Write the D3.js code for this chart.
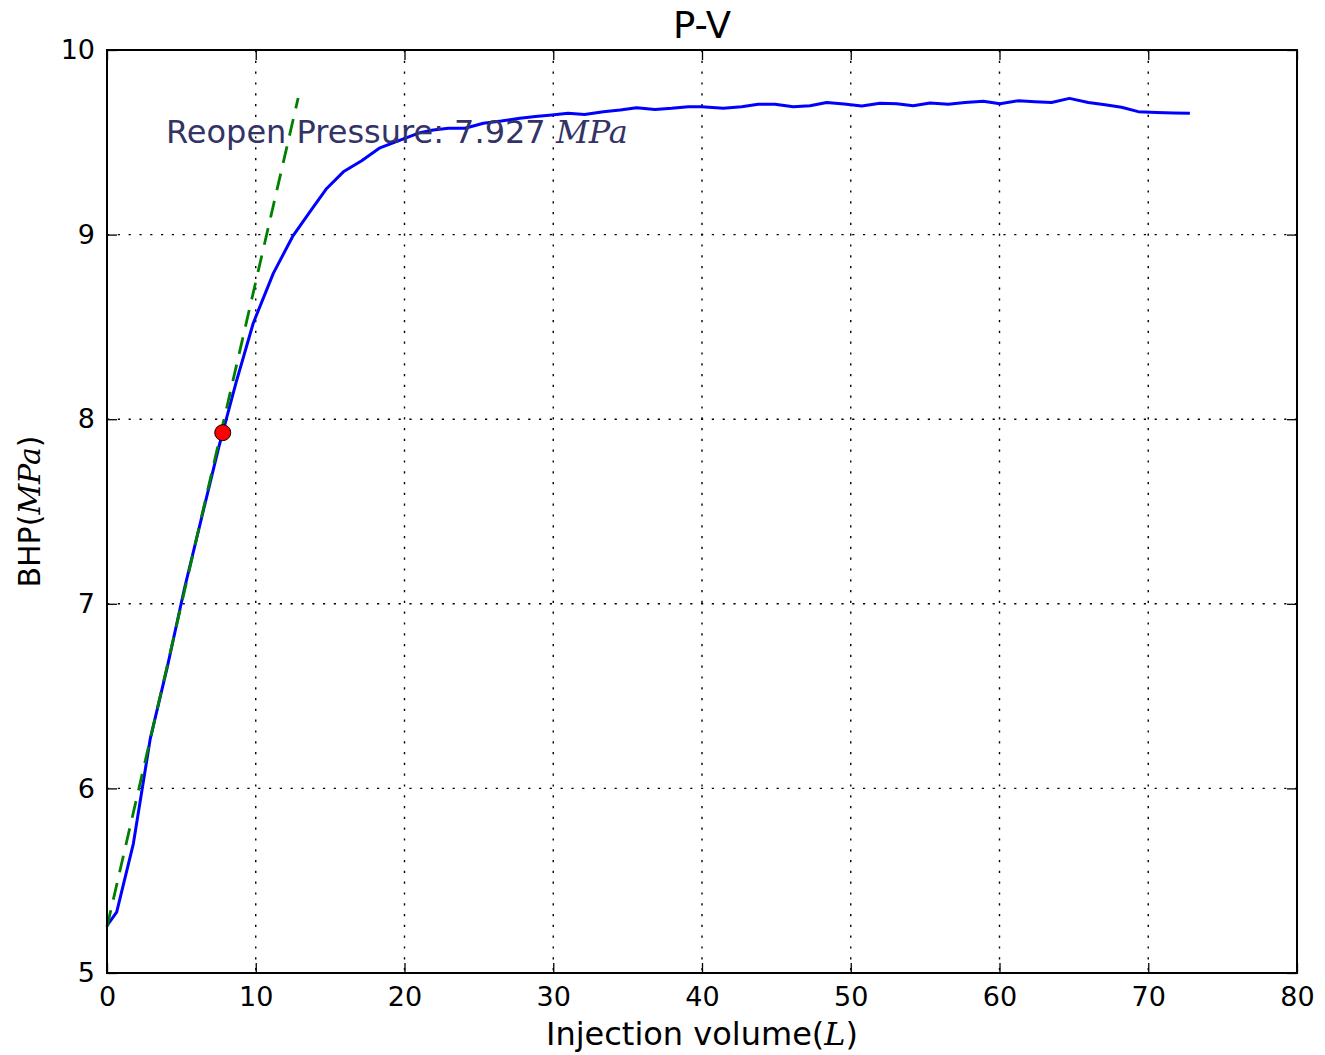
<!DOCTYPE html>
<html>
<head>
<meta charset="utf-8">
<script src="https://cdn.jsdelivr.net/npm/d3@7"></script>
<style>
  html, body { margin: 0; padding: 0; background: #ffffff; }
  svg { display: block; }
  text { font-family: "DejaVu Sans", sans-serif; fill: #000; }
</style>
</head>
<body>
<svg id="chart" width="1325" height="1055"></svg>
<script>
// Injection volume (L) and bottom-hole pressure (MPa) of the P-V record
const volume = [0, 0.65, 1.77, 2.91, 4.06, 5.2, 6.37, 7.52, 8.68, 9.83, 11.18, 12.48, 13.65, 14.77, 15.89, 17.12, 18.35, 19.8, 21.04, 21.94, 22.95, 24.07, 25.3, 26.5, 27.76, 28.8, 29.9, 31.0, 32.1, 33.37, 34.5, 35.6, 36.84, 37.96, 39.08, 39.97, 41.43, 42.66, 43.78, 44.9, 46.14, 47.26, 48.38, 49.55, 50.74, 51.97, 53.09, 54.2, 55.33, 56.56, 57.68, 58.91, 60.03, 61.27, 62.39, 63.5, 64.7, 65.97, 67.1, 68.2, 69.33, 70.56, 71.69, 72.8];
const bhp = [5.257, 5.33, 5.70, 6.27, 6.66, 7.08, 7.47, 7.85, 8.20, 8.52, 8.79, 8.99, 9.124, 9.25, 9.34, 9.40, 9.47, 9.515, 9.552, 9.567, 9.576, 9.576, 9.603, 9.615, 9.63, 9.64, 9.648, 9.657, 9.651, 9.666, 9.675, 9.687, 9.678, 9.684, 9.693, 9.693, 9.684, 9.693, 9.706, 9.706, 9.693, 9.698, 9.716, 9.707, 9.697, 9.711, 9.709, 9.698, 9.713, 9.706, 9.715, 9.722, 9.709, 9.725, 9.72, 9.716, 9.738, 9.716, 9.703, 9.69, 9.666, 9.662, 9.659, 9.657];

// Straight-line fit of the early loading section
const fitVolume = [0, 12.85];
const fitBhp = [5.25, 9.74];

// Reopen point
const reopenVolume = 7.78;
const reopenPressure = 7.927;

const xTicks = [0, 10, 20, 30, 40, 50, 60, 70, 80];
const yTicks = [5, 6, 7, 8, 9, 10];

const svg = d3.select("#chart");
const plotLeft = 107, plotRight = 1297, plotTop = 50, plotBottom = 973;

const x = d3.scaleLinear().domain([0, 80]).range([plotLeft, plotRight]);
const y = d3.scaleLinear().domain([5, 10]).range([plotBottom, plotTop]);

// grid
const grid = svg.append("g");
grid.selectAll("line.gx").data(xTicks.slice(1, -1)).join("line")
  .attr("x1", d => x(d)).attr("x2", d => x(d))
  .attr("y1", plotTop).attr("y2", plotBottom)
  .attr("stroke", "#000").attr("stroke-width", 1.4)
  .attr("stroke-dasharray", "2.2 8.6");
grid.selectAll("line.gy").data(yTicks.slice(1, -1)).join("line")
  .attr("y1", d => y(d)).attr("y2", d => y(d))
  .attr("x1", plotLeft).attr("x2", plotRight)
  .attr("stroke", "#000").attr("stroke-width", 1.4)
  .attr("stroke-dasharray", "2.2 8.6");

// data curve
const line = d3.line().x(d => x(d[0])).y(d => y(d[1]));
svg.append("path")
  .datum(d3.zip(volume, bhp))
  .attr("d", line)
  .attr("fill", "none")
  .attr("stroke", "#0000ff")
  .attr("stroke-width", 3)
  .attr("stroke-linejoin", "round");

// fitted line
svg.append("path")
  .datum(d3.zip(fitVolume, fitBhp))
  .attr("d", line)
  .attr("fill", "none")
  .attr("stroke", "#008000")
  .attr("stroke-width", 2.8)
  .attr("stroke-dasharray", "17 11");

// reopen marker
svg.append("circle")
  .attr("cx", x(reopenVolume)).attr("cy", y(reopenPressure))
  .attr("r", 8)
  .attr("fill", "#ff0000").attr("stroke", "#000").attr("stroke-width", 1);

// annotation
const ann = svg.append("text")
  .attr("x", 166).attr("y", 143)
  .attr("font-size", 32)
  .style("fill", "#333366");
ann.append("tspan").text("Reopen Pressure: " + reopenPressure.toFixed(3) + " ");
ann.append("tspan").text("MPa")
  .style("font-family", "'DejaVu Serif', serif").style("font-style", "italic")
  .style("fill", "#333366");

// axes frame
svg.append("rect")
  .attr("x", plotLeft).attr("y", plotTop)
  .attr("width", plotRight - plotLeft).attr("height", plotBottom - plotTop)
  .attr("fill", "none").attr("stroke", "#000").attr("stroke-width", 2);

// axes with inward ticks on all four sides
const tickLen = 10;
const xb = svg.append("g").attr("transform", `translate(0,${plotBottom})`)
  .call(d3.axisBottom(x).tickValues(xTicks).tickSize(-tickLen).tickPadding(14).tickFormat(d3.format("d")));
const xt = svg.append("g").attr("transform", `translate(0,${plotTop})`)
  .call(d3.axisTop(x).tickValues(xTicks).tickSize(-tickLen).tickFormat(""));
const yl = svg.append("g").attr("transform", `translate(${plotLeft},0)`)
  .call(d3.axisLeft(y).tickValues(yTicks).tickSize(-tickLen).tickPadding(12).tickFormat(d3.format("d")));
const yr = svg.append("g").attr("transform", `translate(${plotRight},0)`)
  .call(d3.axisRight(y).tickValues(yTicks).tickSize(-tickLen).tickFormat(""));
[xb, xt, yl, yr].forEach(g => {
  g.select(".domain").remove();
  g.selectAll(".tick line").attr("stroke", "#000").attr("stroke-width", 1.3);
  g.selectAll("text").attr("font-size", 27).attr("font-family", "DejaVu Sans").attr("fill", "#000");
});

// title and axis labels
svg.append("text").attr("x", (plotLeft + plotRight) / 2).attr("y", 38)
  .attr("text-anchor", "middle").attr("font-size", 37).text("P-V");

const xl = svg.append("text").attr("x", (plotLeft + plotRight) / 2).attr("y", 1045)
  .attr("text-anchor", "middle").attr("font-size", 32);
xl.append("tspan").text("Injection volume(");
xl.append("tspan").text("L").style("font-family", "'DejaVu Serif', serif").style("font-style", "italic");
xl.append("tspan").text(")");

const ylab = svg.append("text")
  .attr("transform", `translate(40,${(plotTop + plotBottom) / 2}) rotate(-90)`)
  .attr("text-anchor", "middle").attr("font-size", 30);
ylab.append("tspan").text("BHP(");
ylab.append("tspan").text("MPa").style("font-family", "'DejaVu Serif', serif").style("font-style", "italic");
ylab.append("tspan").text(")");
</script>
</body>
</html>
